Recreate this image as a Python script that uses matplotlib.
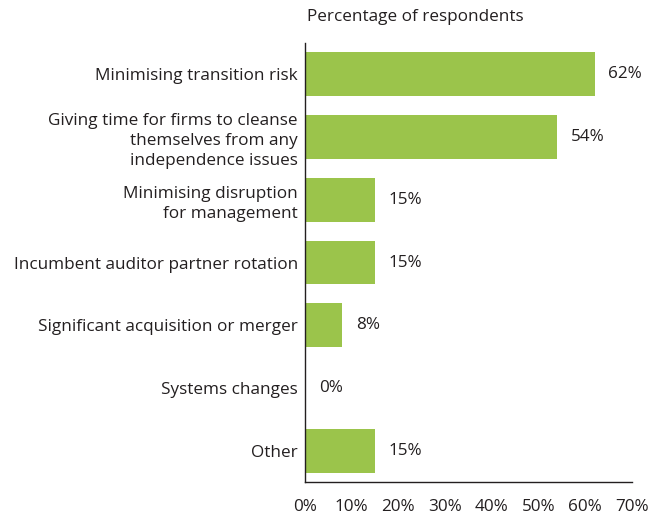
import matplotlib
matplotlib.use("Agg")
import matplotlib.pyplot as plt

categories = [
    "Minimising transition risk",
    "Giving time for firms to cleanse\nthemselves from any\nindependence issues",
    "Minimising disruption\nfor management",
    "Incumbent auditor partner rotation",
    "Significant acquisition or merger",
    "Systems changes",
    "Other",
]
values = [62, 54, 15, 15, 8, 0, 15]
xticks = [0, 10, 20, 30, 40, 50, 60, 70]
xtick_labels = ["0%", "10%", "20%", "30%", "40%", "50%", "60%", "70%"]

plt.rcParams['font.family'] = ['Open Sans', 'DejaVu Sans']
text_color = "#231f20"
bar_color = "#9bc44b"
fs = 12.3

fig = plt.figure(figsize=(6.67, 5.17), dpi=100)
ax = fig.add_axes([0.457, 0.0677, 0.4905, 0.8491])

ypos = list(range(len(categories)))
ax.barh(ypos, values, height=0.7, color=bar_color)
for y, v in zip(ypos, values):
    ax.annotate(f"{v}%", xy=(v, y), xytext=(10, 0), textcoords="offset points",
                va="center", ha="left", fontsize=fs, color=text_color)

ax.set_ylim(len(categories) - 0.5, -0.5)
ax.set_xlim(0, 70)
ax.set_yticks(ypos)
ax.set_yticklabels(categories, fontsize=fs, color=text_color, linespacing=1.35)
ax.set_xticks(xticks)
ax.set_xticklabels(xtick_labels, fontsize=fs, color=text_color)
ax.tick_params(axis="both", length=0)
ax.tick_params(axis="y", pad=5)
ax.tick_params(axis="x", pad=12)
for s in ["top", "right"]:
    ax.spines[s].set_visible(False)
for s in ["left", "bottom"]:
    ax.spines[s].set_color("#231f20")
    ax.spines[s].set_linewidth(1.0)

fig.text(0.460, 0.968, "Percentage of respondents", fontsize=fs, color=text_color,
         ha="left", va="center")

fig.savefig("out.png", dpi=100)
